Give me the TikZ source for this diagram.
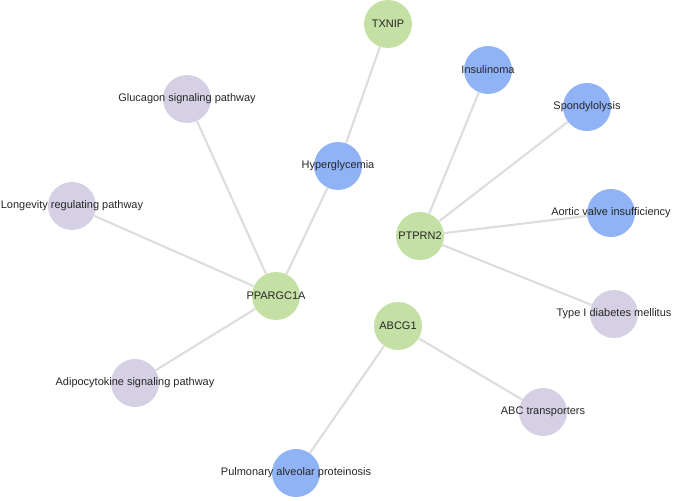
\documentclass[tikz,border=0pt]{standalone}
\usepackage{fontspec}
\setmainfont{Liberation Sans}
\usetikzlibrary{backgrounds}
\definecolor{gene}{HTML}{C5E0A5}
\definecolor{disease}{HTML}{8FB3F5}
\definecolor{pathway}{HTML}{D6D0E4}
\definecolor{edgegray}{HTML}{DDDDDD}
\tikzset{
  ball/.style={circle, minimum size=0.96cm, inner sep=0pt},
  genenode/.style={ball, fill=gene},
  disnode/.style={ball, fill=disease},
  pathnode/.style={ball, fill=pathway},
  lbl/.style={font=\fontsize{6.25}{7}\selectfont, text=black!85, inner sep=0pt},
  link/.style={draw=edgegray, line width=1.2pt}
}
\begin{document}
\begin{tikzpicture}[x=0.02cm, y=-0.02cm]
  \useasboundingbox (0,0) rectangle (685,500);
  % nodes
  \node[genenode] (txnip) at (388,24) {};
  \node[disnode] (insul) at (488,70) {};
  \node[disnode] (spondy) at (587,107) {};
  \node[pathnode] (glucagon) at (187,99) {};
  \node[disnode] (hyper) at (338,166) {};
  \node[pathnode] (longev) at (72,206) {};
  \node[genenode] (ptprn) at (420,236) {};
  \node[disnode] (aortic) at (611,213) {};
  \node[genenode] (ppar) at (276,296) {};
  \node[pathnode] (typeI) at (614,314) {};
  \node[genenode] (abcg) at (398,326) {};
  \node[pathnode] (adipo) at (135,383) {};
  \node[pathnode] (abctr) at (543,412) {};
  \node[disnode] (pulm) at (296,473) {};
  % links
  \begin{scope}[on background layer]
    \draw[link] (txnip) -- (hyper);
    \draw[link] (hyper) -- (ppar);
    \foreach \n in {glucagon, longev, adipo}
      \draw[link] (\n) -- (ppar);
    \foreach \n in {insul, spondy, aortic, typeI}
      \draw[link] (\n) -- (ptprn);
    \draw[link] (abcg) -- (abctr);
    \draw[link] (abcg) -- (pulm);
  \end{scope}
  % labels
  \node[lbl] at (txnip) {TXNIP};
  \node[lbl] at (insul) {Insulinoma};
  \node[lbl] at (spondy) {Spondylolysis};
  \node[lbl] at (glucagon) {Glucagon signaling pathway};
  \node[lbl] at (hyper) {Hyperglycemia};
  \node[lbl] at (longev) {Longevity regulating pathway};
  \node[lbl] at (ptprn) {PTPRN2};
  \node[lbl] at (aortic) {Aortic valve insufficiency};
  \node[lbl] at (ppar) {PPARGC1A};
  \node[lbl] at (typeI) {Type I diabetes mellitus};
  \node[lbl] at (abcg) {ABCG1};
  \node[lbl] at (adipo) {Adipocytokine signaling pathway};
  \node[lbl] at (abctr) {ABC transporters};
  \node[lbl] at (pulm) {Pulmonary alveolar proteinosis};
\end{tikzpicture}
\end{document}
